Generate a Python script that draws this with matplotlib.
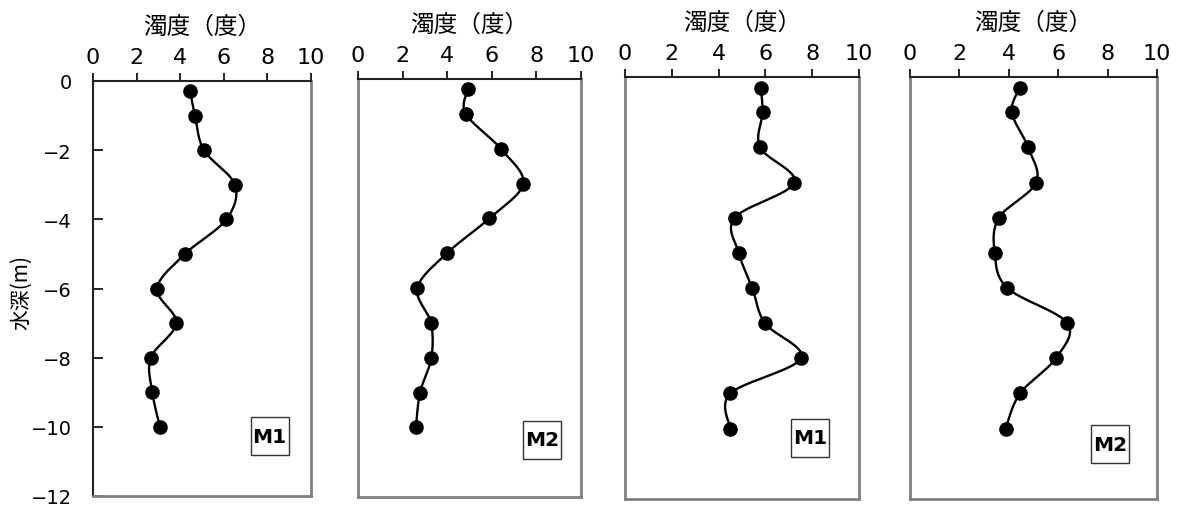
import numpy as np
import matplotlib
matplotlib.use("Agg")
import matplotlib.pyplot as plt
from matplotlib.patches import Rectangle

plt.rcParams['font.family'] = ['Noto Sans CJK JP', 'DejaVu Sans']

depth = [-0.3, -1, -2, -3, -4, -5, -6, -7, -8, -9, -10]
turb_a_m1 = [4.45, 4.68, 5.09, 6.51, 6.12, 4.22, 2.94, 3.82, 2.65, 2.72, 3.07]
turb_a_m2 = [4.92, 4.83, 6.40, 7.41, 5.89, 3.99, 2.66, 3.27, 3.29, 2.78, 2.60]
turb_b_m1 = [5.80, 5.88, 5.77, 7.24, 4.69, 4.86, 5.44, 5.98, 7.52, 4.50, 4.50]
turb_b_m2 = [4.45, 4.12, 4.78, 5.11, 3.60, 3.43, 3.94, 6.37, 5.90, 4.45, 3.87]
series = [turb_a_m1, turb_a_m2, turb_b_m1, turb_b_m2]
station_labels = ["M1", "M2", "M1", "M2"]
xticks = [0, 2, 4, 6, 8, 10]
yticks = [0, -2, -4, -6, -8, -10, -12]
xlabel = "濁度（度）"
ylabel = "水深(m)"

W, H = 1179, 506
fig = plt.figure(figsize=(W / 100, H / 100), dpi=100)

# pixel boxes: (left, right, top, bottom)
boxes = [(93, 311, 82, 497), (358, 581, 80, 498), (625, 859, 78, 500), (910, 1157, 78, 500)]
label_pos = [(8.1, -10.27), (8.25, -10.36), (7.9, -10.26), (8.1, -10.44)]

gray = "#808080"
num_family = ['DejaVu Sans']


def smooth(ax, xs, ys, n=30):
    pts = ax.transData.transform(np.column_stack([xs, ys]))
    P = np.vstack([pts[0], pts, pts[-1]])
    out = []
    t = np.linspace(0, 1, n)[:, None]
    for i in range(1, len(P) - 2):
        p0, p1, p2, p3 = P[i - 1], P[i], P[i + 1], P[i + 2]
        b1 = p1 + (p2 - p0) / 6.0
        b2 = p2 - (p3 - p1) / 6.0
        seg = ((1 - t) ** 3) * p1 + 3 * ((1 - t) ** 2) * t * b1 + 3 * (1 - t) * t ** 2 * b2 + t ** 3 * p2
        out.append(seg)
    out = np.vstack(out)
    return ax.transData.inverted().transform(out)


for i, (vals, box) in enumerate(zip(series, boxes)):
    l, r, t, b = box
    ax = fig.add_axes([l / W, (H - b) / H, (r - l) / W, (b - t) / H])
    ax.set_xlim(0, 10)
    ax.set_ylim(-12, 0)
    ax.xaxis.set_ticks_position('top')
    ax.xaxis.set_label_position('top')
    ax.set_xticks(xticks)
    ax.set_xticklabels([str(v) for v in xticks], fontsize=16, family=num_family)
    ax.tick_params(axis='x', direction='out', length=6, width=1.2, color='black', pad=4)
    for s in ['right', 'bottom', 'left']:
        ax.spines[s].set_color(gray)
        ax.spines[s].set_linewidth(2)
    ax.spines['top'].set_color('#222222')
    ax.spines['top'].set_linewidth(1.5)
    ax.set_xlabel(xlabel, fontsize=17, labelpad=10)
    if i == 0:
        ax.spines['left'].set_color('#222222')
        ax.spines['left'].set_linewidth(1.5)
        ax.set_yticks(yticks)
        ax.set_yticklabels([str(v).replace('-', '\u2212') for v in yticks], fontsize=14,
                           family=num_family)
        ax.tick_params(axis='y', direction='in', length=7, width=1.2, color='black', pad=15)
        ax.set_ylabel(ylabel, fontsize=15, va='center')
        ax.yaxis.set_label_coords((21 - l) / (r - l), (b - 293) / (b - t))
    else:
        ax.set_yticks([])
    curve = smooth(ax, vals, depth)
    ax.plot(curve[:, 0], curve[:, 1], color='black', lw=1.7, zorder=2)
    ax.plot(vals, depth, 'o', color='black', ms=9.5, zorder=3, clip_on=False)
    lx, ly = label_pos[i]
    # label box: about 38 x 38 px
    wpx, hpx = 38.0, 38.0
    dx = wpx / (r - l) * 10
    dy = hpx / (b - t) * 12
    ax.add_patch(Rectangle((lx - dx / 2, ly - dy / 2), dx, dy, fc='white', ec='#333333',
                           lw=1, zorder=4))
    ax.text(lx, ly, station_labels[i], fontsize=14.5, fontweight='bold', ha='center',
            va='center', family=num_family, zorder=5)

fig.savefig("out.png", dpi=100)
